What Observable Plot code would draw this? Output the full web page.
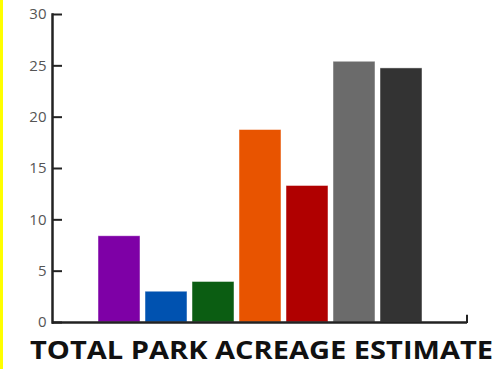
<!DOCTYPE html>
<html>
<head>
<meta charset="utf-8">
<script src="https://cdn.jsdelivr.net/npm/d3@7"></script>
<script src="https://cdn.jsdelivr.net/npm/@observablehq/plot@0.6"></script>
<style>
  html, body { margin: 0; padding: 0; background: #fff; }
  #wrap { width: 492px; height: 369px; border-left: 3px solid #ffff00; position: relative; overflow: hidden; background: #fff; }
  #chart { position: absolute; left: -3px; top: 0; }
  #title { position: absolute; left: 27px; top: 337px; font-family: "Open Sans", sans-serif; font-weight: 700; font-size: 25px; line-height: 25px; color: #111; white-space: nowrap; transform-origin: 0 0; }
</style>
</head>
<body>
<div id="wrap">
  <div id="chart"></div>
  <div id="title">TOTAL PARK ACREAGE ESTIMATE</div>
</div>
<script>
const categories = ["Park A", "Park B", "Park C", "Park D", "Park E", "Park F", "Park G"];
const values = [8.4, 3.0, 3.95, 18.75, 13.3, 25.4, 24.75];
const colors = ["#7e00a6", "#0052b0", "#0b5d12", "#e85400", "#b00000", "#6b6b6b", "#333333"];
const yTicks = [0, 5, 10, 15, 20, 25, 30];

const data = categories.map((c, i) => ({category: c, value: values[i], color: colors[i]}));

const chart = Plot.plot({
  width: 495,
  height: 332,
  marginLeft: 52,
  marginRight: 28,
  marginTop: 14,
  marginBottom: 10,
  style: {fontFamily: "Open Sans, sans-serif", background: "transparent"},
  x: {domain: categories, range: [92, 428.5], padding: 0.1, axis: null},
  y: {domain: [0, 30], axis: null},
  color: {type: "identity"},
  marks: [
    Plot.barY(data, {x: "category", y: "value", fill: "color", stroke: "#fff", strokeOpacity: 0.6, strokeWidth: 0.8}),
    Plot.axisY({ticks: yTicks, tickSize: -10, tickPadding: 17, stroke: "#222", strokeWidth: 2, tickFormat: () => "", label: null}),
    Plot.text(yTicks, {y: d => d, text: d => String(d), frameAnchor: "left", dx: -6, textAnchor: "end", fill: "#555", fontSize: 15}),
    Plot.frame({anchor: "left", stroke: "#222", strokeWidth: 2.5}),
    Plot.ruleY([0], {stroke: "#222", strokeWidth: 2.5})
  ]
});
document.getElementById("chart").appendChild(chart);

// small upward cap at the right end of the baseline
const y0 = chart.scale("y").apply(0);
const y1 = chart.scale("y").apply(0.7);
const xEnd = 495 - 28;
d3.select(chart).append("line")
  .attr("x1", xEnd).attr("x2", xEnd)
  .attr("y1", y0 + 1).attr("y2", y1)
  .attr("stroke", "#222").attr("stroke-width", 2);

// stretch the title to the reference's width
const title = document.getElementById("title");
const w = title.getBoundingClientRect().width;
title.style.transform = `scaleX(${463 / w})`;
</script>
</body>
</html>
